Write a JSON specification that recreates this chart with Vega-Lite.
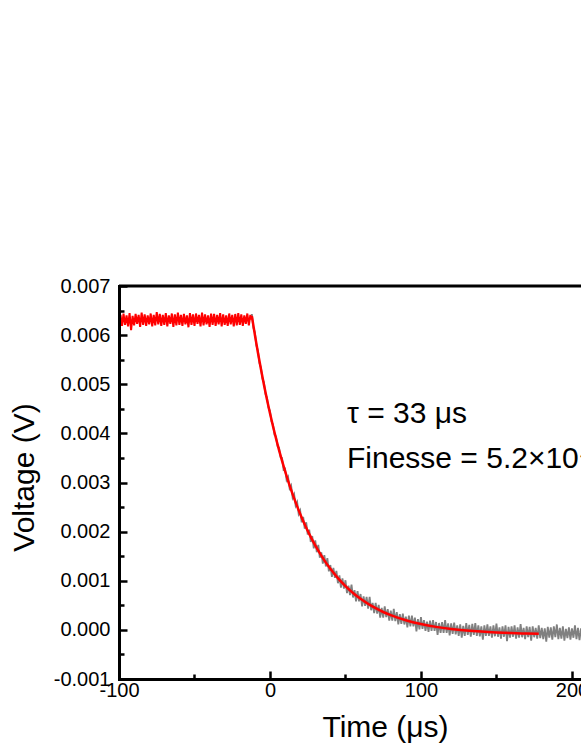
{
  "$schema": "https://vega.github.io/schema/vega-lite/v6.json",
  "width": 462,
  "height": 393,
  "autosize": {"type": "none"},
  "padding": {"left": 119, "top": 286, "right": 0, "bottom": 73},
  "background": "white",
  "config": {"view": {"stroke": null}},
  "datasets": {
    "flat": [
      {"t":-100,"v":0.00622},{"t":-99,"v":0.00641},{"t":-98,"v":0.00619},{"t":-97,"v":0.00644},{"t":-96,"v":0.00621},{"t":-95,"v":0.00640},{"t":-94,"v":0.00618},{"t":-93,"v":0.00645},{"t":-92,"v":0.00610},{"t":-91,"v":0.00639},
      {"t":-90,"v":0.00620},{"t":-89,"v":0.00643},{"t":-88,"v":0.00623},{"t":-87,"v":0.00641},{"t":-86,"v":0.00617},{"t":-85,"v":0.00646},{"t":-84,"v":0.00621},{"t":-83,"v":0.00642},{"t":-82,"v":0.00619},{"t":-81,"v":0.00640},
      {"t":-80,"v":0.00622},{"t":-79,"v":0.00644},{"t":-78,"v":0.00618},{"t":-77,"v":0.00641},{"t":-76,"v":0.00620},{"t":-75,"v":0.00647},{"t":-74,"v":0.00622},{"t":-73,"v":0.00643},{"t":-72,"v":0.00619},{"t":-71,"v":0.00641},
      {"t":-70,"v":0.00621},{"t":-69,"v":0.00645},{"t":-68,"v":0.00618},{"t":-67,"v":0.00640},{"t":-66,"v":0.00623},{"t":-65,"v":0.00644},{"t":-64,"v":0.00617},{"t":-63,"v":0.00642},{"t":-62,"v":0.00620},{"t":-61,"v":0.00646},
      {"t":-60,"v":0.00621},{"t":-59,"v":0.00641},{"t":-58,"v":0.00619},{"t":-57,"v":0.00643},{"t":-56,"v":0.00622},{"t":-55,"v":0.00640},{"t":-54,"v":0.00616},{"t":-53,"v":0.00645},{"t":-52,"v":0.00621},{"t":-51,"v":0.00642},
      {"t":-50,"v":0.00619},{"t":-49,"v":0.00644},{"t":-48,"v":0.00623},{"t":-47,"v":0.00641},{"t":-46,"v":0.00618},{"t":-45,"v":0.00646},{"t":-44,"v":0.00620},{"t":-43,"v":0.00642},{"t":-42,"v":0.00622},{"t":-41,"v":0.00640},
      {"t":-40,"v":0.00617},{"t":-39,"v":0.00644},{"t":-38,"v":0.00621},{"t":-37,"v":0.00643},{"t":-36,"v":0.00619},{"t":-35,"v":0.00641},{"t":-34,"v":0.00622},{"t":-33,"v":0.00645},{"t":-32,"v":0.00618},{"t":-31,"v":0.00642},
      {"t":-30,"v":0.00621},{"t":-29,"v":0.00640},{"t":-28,"v":0.00619},{"t":-27,"v":0.00644},{"t":-26,"v":0.00622},{"t":-25,"v":0.00641},{"t":-24,"v":0.00618},{"t":-23,"v":0.00643},{"t":-22,"v":0.00620},{"t":-21,"v":0.00645},
      {"t":-20,"v":0.00621},{"t":-19,"v":0.00642},{"t":-18,"v":0.00619},{"t":-17,"v":0.00640},{"t":-16,"v":0.00623},{"t":-15,"v":0.00644},{"t":-14,"v":0.00620},{"t":-13,"v":0.00641},{"t":-12,"v":0.00632}
    ],
    "decay": [
      {"t":-12,"v":0.00643},{"t":-11,"v":0.00615},{"t":-10,"v":0.00606},{"t":-9,"v":0.00579},{"t":-8,"v":0.00569},{"t":-7,"v":0.00543},{"t":-6,"v":0.00534},{"t":-5,"v":0.00511},{"t":-4,"v":0.00504},{"t":-3,"v":0.00480},
      {"t":-2,"v":0.00473},{"t":-1,"v":0.00452},{"t":0,"v":0.00446},{"t":1,"v":0.00424},{"t":2,"v":0.00418},{"t":3,"v":0.00397},{"t":4,"v":0.00394},{"t":5,"v":0.00374},{"t":6,"v":0.00371},{"t":7,"v":0.00352},
      {"t":8,"v":0.00350},{"t":9,"v":0.00326},{"t":10,"v":0.00328},{"t":11,"v":0.00305},{"t":12,"v":0.00311},{"t":13,"v":0.00288},{"t":14,"v":0.00294},{"t":15,"v":0.00269},{"t":16,"v":0.00276},{"t":17,"v":0.00253},
      {"t":18,"v":0.00260},{"t":19,"v":0.00236},{"t":20,"v":0.00243},{"t":21,"v":0.00219},{"t":22,"v":0.00230},{"t":23,"v":0.00206},{"t":24,"v":0.00219},{"t":25,"v":0.00194},{"t":26,"v":0.00204},{"t":27,"v":0.00179},
      {"t":28,"v":0.00191},{"t":29,"v":0.00166},{"t":30,"v":0.00182},{"t":31,"v":0.00158},{"t":32,"v":0.00173},{"t":33,"v":0.00147},{"t":34,"v":0.00158},{"t":35,"v":0.00135},{"t":36,"v":0.00152},{"t":37,"v":0.00129},
      {"t":38,"v":0.00146},{"t":39,"v":0.00119},{"t":40,"v":0.00132},{"t":41,"v":0.00108},{"t":42,"v":0.00126},{"t":43,"v":0.00106},{"t":44,"v":0.00120},{"t":45,"v":0.00095},{"t":46,"v":0.00111},{"t":47,"v":0.00086},
      {"t":48,"v":0.00105},{"t":49,"v":0.00084},{"t":50,"v":0.00101},{"t":51,"v":0.00075},{"t":52,"v":0.00090},{"t":53,"v":0.00071},{"t":54,"v":0.00092},{"t":55,"v":0.00066},{"t":56,"v":0.00081},{"t":57,"v":0.00058},
      {"t":58,"v":0.00079},{"t":59,"v":0.00058},{"t":60,"v":0.00073},{"t":61,"v":0.00048},{"t":62,"v":0.00068},{"t":63,"v":0.00049},{"t":64,"v":0.00067},{"t":65,"v":0.00043},{"t":66,"v":0.00067},{"t":67,"v":0.00040},
      {"t":68,"v":0.00055},{"t":69,"v":0.00034},{"t":70,"v":0.00055},{"t":71,"v":0.00033},{"t":72,"v":0.00051},{"t":73,"v":0.00025},{"t":74,"v":0.00045},{"t":75,"v":0.00025},{"t":76,"v":0.00048},{"t":77,"v":0.00026},
      {"t":78,"v":0.00042},{"t":79,"v":0.00019},{"t":80,"v":0.00039},{"t":81,"v":0.00019},{"t":82,"v":0.00043},{"t":83,"v":0.00018},{"t":84,"v":0.00036},{"t":85,"v":0.00011},{"t":86,"v":0.00032},{"t":87,"v":0.00012},
      {"t":88,"v":0.00033},{"t":89,"v":0.00011},{"t":90,"v":0.00027},{"t":91,"v":0.00005},{"t":92,"v":0.00029},{"t":93,"v":0.00007},{"t":94,"v":0.00029},{"t":95,"v":0.00007},{"t":96,"v":0.00025},{"t":97,"v":-0.00003},
      {"t":98,"v":0.00022},{"t":99,"v":0.00001},{"t":100,"v":0.00026},{"t":101,"v":0.00002},{"t":102,"v":0.00020},{"t":103,"v":-0.00002},{"t":104,"v":0.00017},{"t":105,"v":-0.00004},{"t":106,"v":0.00019},{"t":107,"v":-0.00002},
      {"t":108,"v":0.00020},{"t":109,"v":-0.00002},{"t":110,"v":0.00016},{"t":111,"v":-0.00010},{"t":112,"v":0.00014},{"t":113,"v":-0.00006},{"t":114,"v":0.00016},{"t":115,"v":-0.00006},{"t":116,"v":0.00020},{"t":117,"v":-0.00006},
      {"t":118,"v":0.00013},{"t":119,"v":-0.00011},{"t":120,"v":0.00013},{"t":121,"v":-0.00008},{"t":122,"v":0.00015},{"t":123,"v":-0.00009},{"t":124,"v":0.00009},{"t":125,"v":-0.00012},{"t":126,"v":0.00011},{"t":127,"v":-0.00016},
      {"t":128,"v":0.00008},{"t":129,"v":-0.00012},{"t":130,"v":0.00014},{"t":131,"v":-0.00010},{"t":132,"v":0.00010},{"t":133,"v":-0.00014},{"t":134,"v":0.00012},{"t":135,"v":-0.00010},{"t":136,"v":0.00014},{"t":137,"v":-0.00012},
      {"t":138,"v":0.00009},{"t":139,"v":-0.00013},{"t":140,"v":0.00007},{"t":141,"v":-0.00020},{"t":142,"v":0.00009},{"t":143,"v":-0.00012},{"t":144,"v":0.00011},{"t":145,"v":-0.00012},{"t":146,"v":0.00007},{"t":147,"v":-0.00016},
      {"t":148,"v":0.00009},{"t":149,"v":-0.00013},{"t":150,"v":0.00013},{"t":151,"v":-0.00014},{"t":152,"v":0.00005},{"t":153,"v":-0.00018},{"t":154,"v":0.00007},{"t":155,"v":-0.00014},{"t":156,"v":0.00009},{"t":157,"v":-0.00023},
      {"t":158,"v":0.00006},{"t":159,"v":-0.00016},{"t":160,"v":0.00007},{"t":161,"v":-0.00014},{"t":162,"v":0.00009},{"t":163,"v":-0.00018},{"t":164,"v":0.00005},{"t":165,"v":-0.00016},{"t":166,"v":0.00012},{"t":167,"v":-0.00015},
      {"t":168,"v":0.00004},{"t":169,"v":-0.00019},{"t":170,"v":0.00007},{"t":171,"v":-0.00015},{"t":172,"v":0.00006},{"t":173,"v":-0.00022},{"t":174,"v":0.00007},{"t":175,"v":-0.00015},{"t":176,"v":0.00004},{"t":177,"v":-0.00018},
      {"t":178,"v":0.00009},{"t":179,"v":-0.00017},{"t":180,"v":0.00004},{"t":181,"v":-0.00019},{"t":182,"v":0.00003},{"t":183,"v":-0.00024},{"t":184,"v":0.00006},{"t":185,"v":-0.00016},{"t":186,"v":0.00005},{"t":187,"v":-0.00020},
      {"t":188,"v":0.00007},{"t":189,"v":-0.00015},{"t":190,"v":0.00011},{"t":191,"v":-0.00019},{"t":192,"v":0.00004},{"t":193,"v":-0.00018},{"t":194,"v":0.00007},{"t":195,"v":-0.00022},{"t":196,"v":0.00002},{"t":197,"v":-0.00017},
      {"t":198,"v":0.00005},{"t":199,"v":-0.00020},{"t":200,"v":0.00003},{"t":201,"v":-0.00016},{"t":202,"v":0.00009},{"t":203,"v":-0.00019},{"t":204,"v":0.00004},{"t":205,"v":-0.00021},{"t":206,"v":0.00003},{"t":207,"v":-0.00018},
      {"t":208,"v":0.00006},{"t":209,"v":-0.00017},{"t":210,"v":0.00005}
    ],
    "fit": [
      {"t":-12,"v":0.006388},{"t":-10,"v":0.006006},{"t":-8,"v":0.005647},{"t":-6,"v":0.005309},{"t":-4,"v":0.004991},{"t":-2,"v":0.004692},{"t":0,"v":0.00441},{"t":2,"v":0.004145},{"t":4,"v":0.003895},{"t":6,"v":0.00366},
      {"t":8,"v":0.003439},{"t":10,"v":0.003231},{"t":12,"v":0.003035},{"t":14,"v":0.002851},{"t":16,"v":0.002677},{"t":18,"v":0.002514},{"t":20,"v":0.00236},{"t":24,"v":0.00208},{"t":28,"v":0.001831},{"t":32,"v":0.001611},
      {"t":36,"v":0.001415},{"t":40,"v":0.001242},{"t":45,"v":0.001053},{"t":50,"v":0.000891},{"t":55,"v":0.000752},{"t":60,"v":0.000632},{"t":65,"v":0.000529},{"t":70,"v":0.000441},{"t":75,"v":0.000364},{"t":80,"v":0.000299},
      {"t":90,"v":0.000195},{"t":100,"v":0.000118},{"t":110,"v":0.000061},{"t":120,"v":0.000019},{"t":130,"v":-0.000012},{"t":140,"v":-0.000035},{"t":150,"v":-0.000052},{"t":160,"v":-0.000065},{"t":170,"v":-0.000074},{"t":178,"v":-0.00008}
    ],
    "notes": [
      {"t":51,"v":0.004217,"label":"τ = 33 μs"},
      {"t":51,"v":0.003295,"label":"Finesse = 5.2×10⁴"}
    ]
  },
  "encoding": {
    "x": {
      "field": "t", "type": "quantitative",
      "scale": {"domain": [-100, 206], "nice": false, "zero": false},
      "axis": {
        "title": "Time (μs)",
        "values": [-100, -50, 0, 50, 100, 150, 200],
        "labelExpr": "datum.value % 100 == 0 ? (datum.value < 0 ? '-' : '') + abs(datum.value) : ''",
        "tickSize": {"condition": {"test": "datum.value % 100 != 0", "value": -5}, "value": -8},
        "grid": false, "zindex": 2,
        "domainColor": "black", "domainWidth": 3, "domainCap": "square",
        "tickColor": "black", "tickWidth": 2.5,
        "labelFont": "Liberation Sans", "labelFontSize": 20, "labelColor": "black", "labelPadding": 9,
        "labelFlush": false, "labelOverlap": false, "labelBound": false,
        "titleFont": "Liberation Sans", "titleFontSize": 30, "titleFontWeight": "normal", "titleColor": "black",
        "titleX": 266, "titleY": 57, "titleBaseline": "alphabetic", "titleAlign": "center"
      }
    },
    "y": {
      "field": "v", "type": "quantitative",
      "scale": {"domain": [-0.001, 0.007], "nice": false, "zero": false},
      "axis": {
        "title": "Voltage (V)",
        "values": [-0.001, -0.0005, 0, 0.0005, 0.001, 0.0015, 0.002, 0.0025, 0.003, 0.0035, 0.004, 0.0045, 0.005, 0.0055, 0.006, 0.0065, 0.007],
        "labelExpr": "round(abs(datum.value) * 10000) % 10 == 0 ? (datum.value < -0.00001 ? '-' : '') + format(abs(datum.value), '.3f') : ''",
        "tickSize": {"condition": {"test": "round(abs(datum.value) * 10000) % 10 != 0", "value": -5}, "value": -8},
        "grid": false, "zindex": 2,
        "domainColor": "black", "domainWidth": 3, "domainCap": "square",
        "tickColor": "black", "tickWidth": 2.5,
        "labelFont": "Liberation Sans", "labelFontSize": 20, "labelColor": "black", "labelPadding": 17,
        "labelOverlap": false, "labelBound": false, "labelFlush": false,
        "titleFont": "Liberation Sans", "titleFontSize": 30, "titleFontWeight": "normal", "titleColor": "black",
        "titleX": -86, "titleY": 191, "titleAngle": 270, "titleBaseline": "alphabetic", "titleAlign": "center"
      }
    }
  },
  "layer": [
    {
      "data": {"name": "decay"},
      "mark": {"type": "line", "color": "#808080", "strokeWidth": 1.8, "clip": true}
    },
    {
      "data": {"name": "flat"},
      "mark": {"type": "line", "color": "#ff0000", "strokeWidth": 2, "clip": true}
    },
    {
      "data": {"name": "fit"},
      "mark": {"type": "line", "color": "#ff0000", "strokeWidth": 2.5, "clip": true, "interpolate": "monotone"}
    },
    {
      "data": {"name": "notes"},
      "transform": [{"filter": "datum.v > 0.004"}],
      "mark": {"type": "rule", "color": "black", "strokeWidth": 3},
      "encoding": {
        "x": {"datum": -100},
        "x2": {"datum": 206},
        "y": {"datum": 0.007}
      }
    },
    {
      "data": {"name": "notes"},
      "mark": {"type": "text", "align": "left", "baseline": "alphabetic", "font": "Liberation Sans", "fontSize": 30, "color": "black"},
      "encoding": {
        "text": {"field": "label"}
      }
    }
  ]
}
